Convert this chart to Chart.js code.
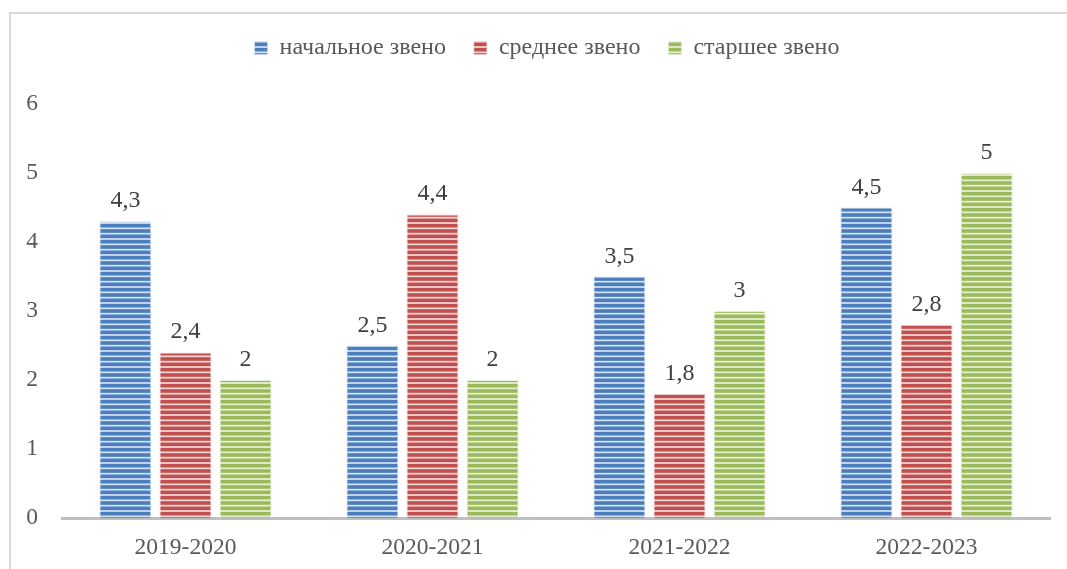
<!DOCTYPE html>
<html>
<head>
<meta charset="utf-8">
<script src="https://cdn.jsdelivr.net/npm/chart.js@4/dist/chart.umd.min.js"></script>
<style>
  body { margin: 0; background: #fff; }
  #wrap { position: relative; width: 1067px; height: 569px; }
  #frame { position: absolute; left: 9px; top: 12px; right: -10px; bottom: -10px;
           border-left: 2px solid #d9d9d9; border-top: 2px solid #d9d9d9; }
  canvas { position: absolute; left: 0; top: 0; }
</style>
</head>
<body>
<div id="wrap">
  <div id="frame"></div>
  <canvas id="chart" width="1067" height="569"></canvas>
</div>
<script>
var years = ['2019-2020', '2020-2021', '2021-2022', '2022-2023'];
var seriesNames = ['начальное звено', 'среднее звено', 'старшее звено'];
var primary = [4.3, 2.5, 3.5, 4.5];
var middle = [2.4, 4.4, 1.8, 2.8];
var senior = [2, 2, 3, 5];
var yTicks = [0, 1, 2, 3, 4, 5, 6];

// striped fill like the office "horizontal lines" pattern (period ~5.3px)
function stripes(color) {
  var c = document.createElement('canvas');
  c.width = 4; c.height = 16;
  var g = c.getContext('2d');
  g.fillStyle = color;
  g.fillRect(0, 0, 4, 16);
  g.fillStyle = 'rgba(255,255,255,0.78)';
  for (var k = 0; k < 3; k++) g.fillRect(0, 3.5 + k * 16 / 3, 4, 1.7);
  return g.createPattern(c, 'repeat');
}

var font = "'Liberation Serif', 'Times New Roman', serif";

var valueLabels = {
  id: 'valueLabels',
  beforeInit: function (chart) {
    // a bit more room under the legend so the plot starts lower
    var lg = chart.legend;
    var fit = lg.fit;
    lg.fit = function () { fit.call(this); this.height += 13; };
  },
  afterLayout: function (chart) {
    var lg = chart.legend;
    lg.top -= 21; lg.bottom -= 21;
    lg.left += 22; lg.right += 22;
  },
  afterDatasetsDraw: function (chart) {
    var ctx = chart.ctx;
    ctx.save();
    ctx.font = '24px ' + font;
    ctx.fillStyle = '#404040';
    ctx.textAlign = 'center';
    ctx.textBaseline = 'alphabetic';
    chart.data.datasets.forEach(function (ds, i) {
      chart.getDatasetMeta(i).data.forEach(function (bar, j) {
        ctx.fillText(String(ds.data[j]).replace('.', ','), bar.x, bar.y - 14);
      });
    });
    ctx.restore();
  }
};

new Chart(document.getElementById('chart'), {
  type: 'bar',
  data: {
    labels: years,
    datasets: [
      { label: seriesNames[0], data: primary, backgroundColor: stripes('#4a7ebf'), borderColor: 'rgba(205,220,240,0.9)', borderWidth: { left: 1, right: 1, top: 1 } },
      { label: seriesNames[1], data: middle, backgroundColor: stripes('#c0504d'), borderColor: 'rgba(238,205,205,0.9)', borderWidth: { left: 1, right: 1, top: 1 } },
      { label: seriesNames[2], data: senior, backgroundColor: stripes('#9bbb59'), borderColor: 'rgba(225,236,205,0.9)', borderWidth: { left: 1, right: 1, top: 1 } }
    ]
  },
  options: {
    responsive: false,
    animation: false,
    categoryPercentage: 0.73,
    barPercentage: 0.865,
    layout: { padding: { top: 29, right: 17, left: 0, bottom: 0 } },
    plugins: {
      legend: {
        position: 'top',
        labels: {
          boxWidth: 13, boxHeight: 13, padding: 28,
          color: '#595959',
          font: { family: font, size: 24 }
        }
      },
      tooltip: { enabled: false }
    },
    scales: {
      x: {
        grid: { display: false },
        border: { display: true, color: '#bfbfbf', width: 3 },
        ticks: { color: '#595959', padding: 8, font: { family: font, size: 23.5 } },
        afterFit: function (s) { s.height = 51; }
      },
      y: {
        min: 0, max: 6,
        afterBuildTicks: function (s) { s.ticks = yTicks.map(function (v) { return { value: v }; }); },
        grid: { display: false },
        border: { display: false },
        ticks: { color: '#595959', padding: 16, font: { family: font, size: 23.5 } },
        afterFit: function (s) { s.width = 62; }
      }
    }
  },
  plugins: [valueLabels]
});
</script>
</body>
</html>
